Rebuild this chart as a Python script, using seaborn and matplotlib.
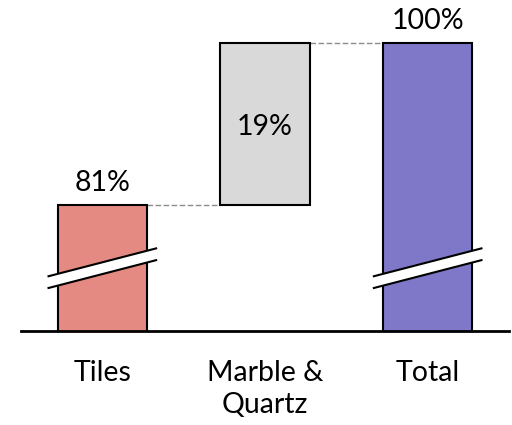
import matplotlib
matplotlib.use("Agg")
import matplotlib.pyplot as plt
from matplotlib.patches import Polygon
import seaborn as sns
import pandas as pd

# Waterfall: Tiles + Marble & Quartz = Total
categories = ["Tiles", "Marble &\nQuartz", "Total"]
starts = [0, 81, 0]
ends = [81, 100, 100]
value_labels = ["81%", "19%", "100%"]
colors = ["#E48A82", "#D9D9D9", "#7F78C8"]
broken = [True, False, True]

sns.set_theme(style="white")
plt.rcParams["font.family"] = ["Lato", "DejaVu Sans"]

FONT_SIZE = 20.5

fig = plt.figure(figsize=(5.12, 4.25), dpi=100)
ax = fig.add_axes([21 / 512, 1 - 331 / 425, 488 / 512, 331 / 425])

df = pd.DataFrame({"category": categories, "top": ends})
sns.barplot(data=df, x="category", y="top", hue="category", palette=colors,
            legend=False, width=0.55, edgecolor="black", linewidth=1.5,
            saturation=1, ax=ax, zorder=2)

# turn the middle bar into a floating step
for patch, lo, hi in zip(ax.patches, starts, ends):
    patch.set_y(lo)
    patch.set_height(hi - lo)

# axis starts above zero: the full bars carry a break mark
ax.set_xlim(-0.5, 2.5)
ax.set_ylim(66.2, 105.04)

half_w = 0.275
ext = 0.337
band_mid = 73.57
half_gap = 0.69
rise = 3.33
for i, is_broken in enumerate(broken):
    if not is_broken:
        continue
    x0, x1 = i - ext, i + ext
    y0, y1 = band_mid - rise / 2, band_mid + rise / 2
    band = Polygon([(x0, y0 - half_gap), (x1, y1 - half_gap),
                    (x1, y1 + half_gap), (x0, y0 + half_gap)],
                   closed=True, facecolor="white", edgecolor="none",
                   zorder=4, clip_on=False)
    ax.add_patch(band)
    for off in (-half_gap, half_gap):
        ax.plot([x0, x1], [y0 + off, y1 + off], color="black", lw=1.5,
                zorder=5, solid_capstyle="butt", clip_on=False)

# dashed connectors between consecutive steps
for i in range(len(categories) - 1):
    level = ends[i]
    ax.plot([i + half_w, i + 1 - half_w], [level, level], color="#8C8C8C",
            lw=1.0, ls=(0, (4, 1.8)), zorder=1)

# value labels
for i, (lo, hi, lab) in enumerate(zip(starts, ends, value_labels)):
    if lo > 0:
        ax.annotate(lab, xy=(i, (lo + hi) / 2), xytext=(0, -8),
                    textcoords="offset points", ha="center", va="baseline",
                    fontsize=FONT_SIZE, color="black", zorder=6)
    else:
        ax.annotate(lab, xy=(i, hi), xytext=(0, 10),
                    textcoords="offset points", ha="center", va="baseline",
                    fontsize=FONT_SIZE, color="black", zorder=6,
                    annotation_clip=False)

ax.set_xlabel("")
ax.set_ylabel("")
ax.set_yticks([])
ax.tick_params(axis="x", length=0, pad=21, labelsize=FONT_SIZE,
               labelcolor="black")
for lbl in ax.get_xticklabels():
    lbl.set_linespacing(1.3)
for side in ("left", "right", "top"):
    ax.spines[side].set_visible(False)
ax.spines["bottom"].set_color("black")
ax.spines["bottom"].set_linewidth(2)
ax.spines["bottom"].set_zorder(7)

fig.savefig("out.png", dpi=100, facecolor="white")
